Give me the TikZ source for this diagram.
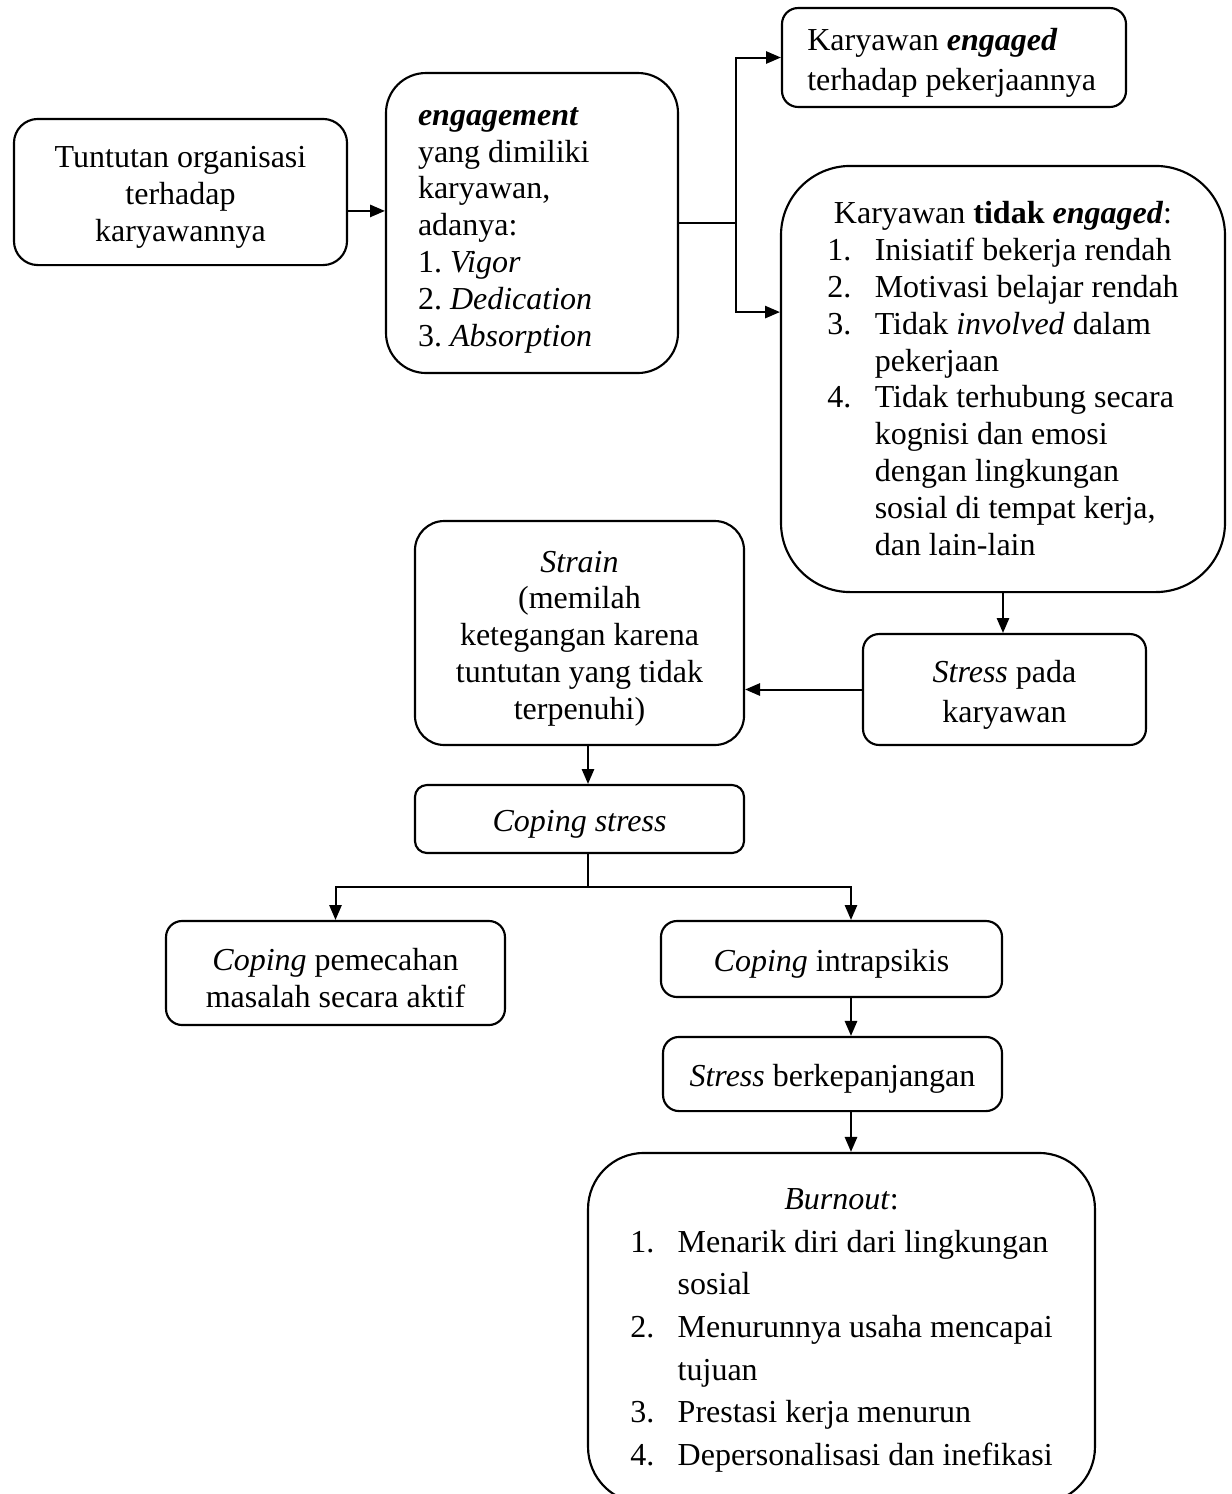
\documentclass[tikz,border=0pt]{standalone}
\usepackage{fontspec}
\setmainfont{Liberation Serif}
\usepackage{tikz}
\usetikzlibrary{arrows.meta}
\frenchspacing
\newcommand{\numi}[1]{\makebox[17.8pt][l]{#1}}
\newcommand{\indi}{\hspace*{17.8pt}}

\begin{document}
\begin{tikzpicture}[x=0.375pt,y=-0.375pt,
    box/.style={draw,line width=0.8pt,inner sep=0pt,align=flush center,
      font=\fontsize{12}{13.8}\selectfont,execute at begin node={\rule{0pt}{12pt}}},
    sz/.style 2 args={minimum width=#1,minimum height=#2},
    arr/.style={-{Triangle[length=5.6pt,width=4.6pt]},line width=0.75pt}]
    \useasboundingbox (0,0) rectangle (1232,1494);
    \clip (0,0) rectangle (1232,1494);
    % top row
    \node[box,sz={124.9pt}{54.8pt},rounded corners=9pt,text width=118pt] (tunt) at (180.5,192)
      {Tuntutan organisasi\\terhadap\\karyawannya};
    \node[box,sz={109.5pt}{112.5pt},rounded corners=15pt,text width=85.5pt,align=flush left] (eng) at (532,223)
      {\textbf{\textit{engagement}}\\yang dimiliki\\karyawan,\\adanya:\\1. \textit{Vigor}\\2. \textit{Dedication}\\3. \textit{Absorption}};
    \node[box,sz={129pt}{37.1pt},rounded corners=6pt,text width=110pt,align=flush left,
      font=\fontsize{12}{15}\selectfont] (eng1) at (954,57.5)
      {Karyawan \textbf{\textit{engaged}}\\terhadap pekerjaannya};
    \node[box,sz={166.5pt}{159.8pt},rounded corners=26pt] (tidak) at (1003,379)
      {\begin{tabular}[t]{@{}l@{}}
       \multicolumn{1}{@{}c@{}}{Karyawan \textbf{tidak \textit{engaged}}:}\\
       \numi{1.}Inisiatif bekerja rendah\\
       \numi{2.}Motivasi belajar rendah\\
       \numi{3.}Tidak \textit{involved} dalam\\
       \indi pekerjaan\\
       \numi{4.}Tidak terhubung secara\\
       \indi kognisi dan emosi\\
       \indi dengan lingkungan\\
       \indi sosial di tempat kerja,\\
       \indi dan lain-lain
       \end{tabular}};
    % middle
    \node[box,sz={123.4pt}{84pt},rounded corners=11pt,text width=118pt] (strain) at (579.5,633)
      {\textit{Strain}\\(memilah\\ketegangan karena\\tuntutan yang tidak\\terpenuhi)};
    \node[box,sz={106.1pt}{41.6pt},rounded corners=6pt,text width=100pt,
      font=\fontsize{12}{15}\selectfont] (stress) at (1004.5,689.5)
      {\textit{Stress} pada\\karyawan};
    \node[box,sz={123.4pt}{25.5pt},rounded corners=4.5pt] (coping) at (579.5,819)
      {\textit{Coping stress}};
    \node[box,sz={127.1pt}{39pt},rounded corners=6pt,text width=121pt,execute at begin node={}] (aktif) at (335.5,973)
      {\textit{Coping} pemecahan\\masalah secara aktif};
    \node[box,sz={127.9pt}{28.5pt},rounded corners=6pt] (intra) at (831.5,959)
      {\textit{Coping} intrapsikis};
    \node[box,sz={127.1pt}{27.8pt},rounded corners=6pt] (lanjut) at (832.5,1074)
      {\textit{Stress} berkepanjangan};
    % bottom, cut by the page edge
    \node[box,sz={190.1pt}{131.3pt},rounded corners=21pt,font=\fontsize{12}{16}\selectfont] (burnout) at (841.5,1328)
      {\begin{tabular}[t]{@{}l@{}}
       \multicolumn{1}{@{}c@{}}{\textit{Burnout}:}\\
       \numi{1.}Menarik diri dari lingkungan\\
       \indi sosial\\
       \numi{2.}Menurunnya usaha mencapai\\
       \indi tujuan\\
       \numi{3.}Prestasi kerja menurun\\
       \numi{4.}Depersonalisasi dan inefikasi
       \end{tabular}};
    % arrows
    \coordinate (split) at (736,223);
    \coordinate (spine) at (588,887);
    \coordinate (rbr) at (851,887);
    \draw[arr] ([yshift=-7.1pt]tunt.east) -- ([yshift=-7.1pt]tunt.east -| eng.west);
    \draw[line width=0.75pt] (eng.east) -- (split);
    \draw[arr] (split) |- (eng1.west);
    \draw[arr] (split) |- ([yshift=25.1pt]tidak.west);
    \draw[arr] (tidak.south) -- (tidak.south |- stress.north);
    \draw[arr] (stress.west) -- (stress.west -| strain.east);
    \draw[arr] (strain.south -| spine) -- (coping.north -| spine);
    \draw[line width=0.75pt] (coping.south -| spine) -- (spine);
    \draw[arr] (spine) -| (aktif.north);
    \draw[arr] (spine) -| (intra.north -| rbr);
    \draw[arr] (intra.south -| rbr) -- (lanjut.north -| rbr);
    \draw[arr] (lanjut.south -| rbr) -- (burnout.north -| rbr);
\end{tikzpicture}
\end{document}
